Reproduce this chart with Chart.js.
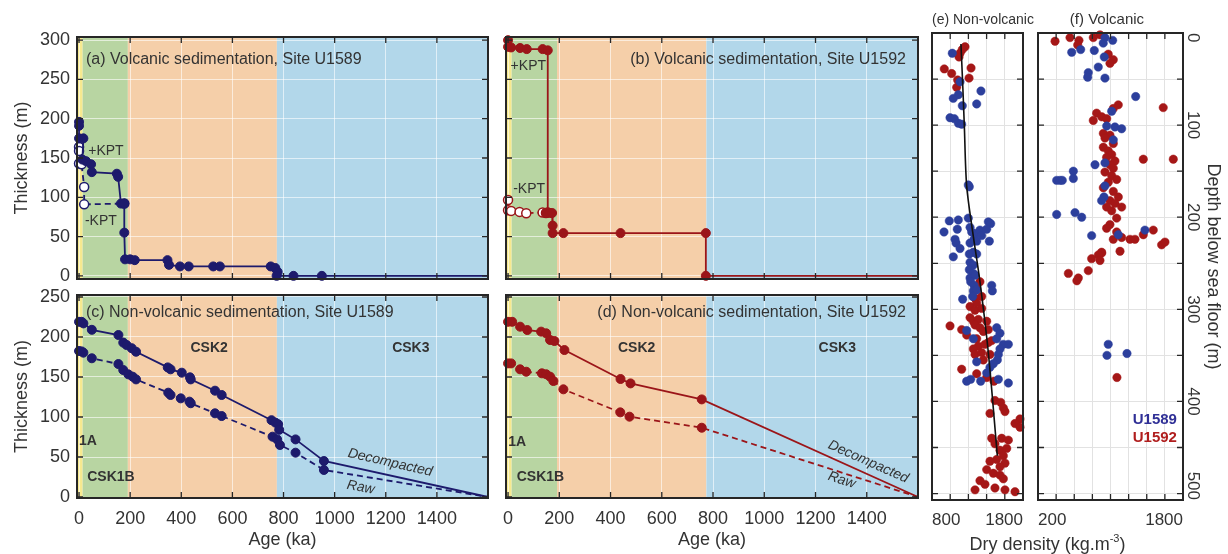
<!DOCTYPE html>
<html>
<head>
<meta charset="utf-8">
<title>Volcanic and non-volcanic sedimentation, U1589 / U1592</title>
<script src="https://cdn.jsdelivr.net/npm/chart.js@4.4.1/dist/chart.umd.min.js"></script>
<style>
  body { margin: 0; background: #fff; }
  #fig { position: relative; width: 1228px; height: 554px; overflow: hidden; }
  #fig canvas { position: absolute; }
</style>
</head>
<body>
<div id="fig">
  <canvas id="chartA" width="500" height="270" style="left:0;top:15px"></canvas>
  <canvas id="chartB" width="430" height="270" style="left:495px;top:15px"></canvas>
  <canvas id="chartC" width="500" height="271" style="left:0;top:283px"></canvas>
  <canvas id="chartD" width="430" height="271" style="left:495px;top:283px"></canvas>
  <canvas id="chartE" width="120" height="554" style="left:920px;top:0"></canvas>
  <canvas id="chartF" width="278" height="554" style="left:950px;top:0"></canvas>
</div>
<script>
const FONT = "'Liberation Sans', Arial, Helvetica, sans-serif";
Chart.defaults.font.family = FONT;
Chart.defaults.color = "#333";
Chart.defaults.animation = false;
Chart.defaults.plugins.legend.display = false;
Chart.defaults.plugins.tooltip.enabled = false;

// ---- ticks ----
const ageTicks = [0, 200, 400, 600, 800, 1000, 1200, 1400];
const volcThkTicks = [0, 50, 100, 150, 200, 250, 300];
const nonVolcThkTicks = [0, 50, 100, 150, 200, 250];
const depthTicks = [0, 50, 100, 150, 200, 250, 300, 350, 400, 450, 500];
const depthLabels = [0, 100, 200, 300, 400, 500];
const densTicksE = [800, 1000, 1200, 1400, 1600, 1800];
const densTicksF = [200, 400, 600, 800, 1000, 1200, 1400, 1600, 1800];

// stage boundaries (ka): 1A | CSK1B | CSK2 | CSK3
const stageEdges = [-8, 14, 191, 774, 1600];

// ---- (a) volcanic, U1589 : age (ka) / cumulative thickness (m) ----
const u1589VolcAge = [0, 0, 0, 17, 13, 27, 47, 50, 148, 153, 164, 177, 177, 180, 200, 218, 346, 352, 395, 429, 525, 551, 750, 768, 777, 773, 839, 950, 1600];
const u1589VolcThk = [196, 191, 175, 175, 148, 146, 142, 132, 130, 126, 92, 92, 55, 21, 21, 20, 20, 14, 12, 12, 12, 12, 12, 10, 5, 0, 0, 0, 0];
const u1589NoKptAge = [0, 0, 0, 10, 20, 20, 177];
const u1589NoKptThk = [164, 159, 143, 142, 113, 91, 92];

// ---- (b) volcanic, U1592 ----
const u1592VolcAge = [0, 0, 12, 47, 73, 135, 155, 155, 148, 162, 172, 174, 174, 216, 439, 772, 772, 1600];
const u1592VolcThk = [300, 291.5, 290.7, 290, 288.6, 288.6, 287, 81, 80, 80, 80, 64, 54.4, 54.4, 54.4, 54.4, 0, 0];
const u1592NoKptAge = [0, 0, 12, 45, 71, 135, 148];
const u1592NoKptThk = [96.6, 83.5, 82.7, 81.4, 79.7, 80.6, 80];

// ---- (c) non-volcanic, U1589 ----
const u1589DecAge = [0, 10, 17, 50, 154, 173, 186, 206, 223, 347, 358, 402, 434, 437, 532, 558, 753, 768, 779, 783, 847, 958, 1600];
const u1589DecThk = [219, 219, 217, 209, 202.5, 193, 190, 186, 181.6, 162, 159.6, 155.4, 149.6, 147, 132.9, 127.5, 96, 93, 91, 84, 72, 45, 0];
const u1589RawAge = [0, 10, 17, 50, 154, 173, 193, 210, 223, 349, 358, 398, 432, 437, 532, 558, 757, 775, 786, 847, 958, 1600];
const u1589RawThk = [182.5, 182, 180.4, 173.4, 166.2, 158.7, 153.3, 150.4, 147, 130.4, 127.5, 123.3, 119.2, 117.2, 104.6, 101.2, 75.4, 72, 65, 55.4, 33.8, 0];

// ---- (d) non-volcanic, U1592 ----
const u1592DecAge = [0, 16, 47, 75, 129, 149, 164, 181, 220, 439, 478, 756, 1600];
const u1592DecThk = [219, 219, 212.9, 208.7, 206.7, 204.6, 196.3, 195, 183.7, 147.5, 142, 122, 0];
const u1592RawAge = [0, 12, 47, 71, 132, 149, 164, 177, 216, 438, 474, 756, 1600];
const u1592RawThk = [167, 167, 159.6, 156.6, 154.6, 153.4, 150.4, 145, 134.6, 105.8, 100.4, 86.6, 0];

// ---- (e) non-volcanic dry density (kg/m3) vs depth (m) ----
const nonVolcU1589 = [
  [1023, 22], [1108, 53], [1338, 63], [1090, 67], [1034, 71], [1291, 77], [1133, 79], [998, 92], [1045, 93], [1090, 98], [1126, 99],
  [1210, 167], [1199, 165], [990, 204], [1089, 203], [1199, 201], [932, 216], [1078, 213], [1218, 211], [1236, 216], [1273, 218],
  [1327, 214], [1419, 205], [1445, 207], [1401, 213], [1053, 224], [1064, 228], [1262, 224], [1291, 226], [1346, 220], [1218, 228],
  [1108, 234], [1254, 238], [1210, 240], [1430, 226], [1034, 243], [1291, 240], [1218, 249], [1254, 252], [1210, 257], [1254, 261],
  [1218, 266], [1273, 263], [1225, 270], [1262, 274], [1254, 280], [1291, 279], [1137, 289], [1456, 274], [1463, 280],
  [1247, 286], [1181, 323], [1254, 332], [1511, 320], [1547, 326], [1511, 332], [1584, 338], [1639, 338], [1547, 343], [1529, 349],
  [1518, 355], [1474, 359], [1437, 363], [1291, 357], [1401, 369], [1225, 376], [1181, 378], [1335, 378], [1529, 376], [1639, 380],
];
const nonVolcU1592 = [
  [1163, 15], [1133, 18], [1108, 22], [1097, 26], [935, 39], [1016, 44], [1229, 38], [1207, 49], [1082, 51], [1071, 59],
  [1327, 270], [1291, 278], [1346, 286], [1273, 288], [1218, 297], [1273, 301], [1291, 293], [1346, 299], [1218, 309], [1254, 313],
  [1309, 311], [1273, 317], [1327, 320], [1364, 324], [1401, 313], [1419, 322], [998, 318], [1126, 322], [1181, 328], [1291, 332],
  [1309, 340], [1382, 338], [1419, 336], [1456, 334], [1254, 343], [1273, 349], [1346, 347], [1437, 349], [1364, 355], [1126, 365],
  [1291, 370], [1401, 374], [1481, 378],
  [1492, 399], [1555, 401], [1584, 407], [1602, 411], [1437, 413], [1767, 419], [1712, 424], [1767, 428], [1456, 440], [1492, 446],
  [1566, 440], [1639, 442], [1547, 453], [1621, 451], [1584, 459], [1602, 467], [1547, 471], [1511, 463], [1437, 465], [1401, 474],
  [1474, 478], [1547, 480], [1584, 484], [1327, 486], [1382, 490], [1492, 494], [1602, 496], [1273, 496], [1712, 498],
];
const trendDensity = [1118, 1135, 1155, 1181, 1247, 1327, 1419, 1518];
const trendDepth = [12, 50, 100, 166, 216, 270, 347, 459];

// ---- (f) volcanic dry density vs depth ----
const volcU1589 = [
  [939, 5], [1024, 8], [920, 11], [572, 21], [671, 18], [821, 19], [931, 26], [865, 37], [755, 43], [748, 48], [939, 49], [1278, 69],
  [1013, 85], [958, 101], [1049, 102], [1123, 104],
  [1031, 116], [939, 141], [829, 143], [590, 150], [590, 158], [406, 160], [443, 160], [468, 160], [939, 166], [928, 178], [902, 182],
  [406, 197], [608, 195], [682, 200], [1380, 214], [792, 220], [1086, 219],
  [975, 338], [961, 350], [1182, 348],
];
const volcU1592 = [
  [388, 9], [553, 5], [652, 8], [638, 13], [884, 2], [810, 5], [975, 23], [1031, 29], [994, 33], [1582, 81], [1086, 78], [1031, 82],
  [847, 87], [903, 91], [958, 93], [810, 95],
  [921, 109], [994, 111], [939, 114], [1031, 120], [921, 124], [976, 128], [1013, 132], [957, 135], [1049, 139], [994, 143],
  [1031, 147], [939, 151], [1013, 155], [1068, 159], [976, 162], [921, 168], [1031, 172], [1086, 178], [994, 182], [1049, 185],
  [957, 189], [1013, 193], [1123, 189], [1068, 201], [994, 208], [957, 212], [1068, 216], [1031, 224], [1105, 237], [902, 239],
  [1362, 137], [1693, 137],
  [1123, 222], [1215, 224], [1270, 224], [1362, 219], [1472, 214], [1564, 230], [1601, 227],
  [902, 238], [866, 241], [884, 247], [792, 245], [535, 261], [645, 266], [629, 269], [755, 258],
  [1071, 374],
];

// ---- styles ----
const stageColors = ["#f7e98f", "#b8d5a2", "#f5cfa9", "#b2d7ea"];
const NAVY = "#1d1a6c";
const CRIMSON = "#9b1519";
const DOT_BLUE = "#2c3f9c";
const DOT_RED = "#a51717";
const BAND_GRID = "rgba(255,255,255,0.6)";
const WHITE_GRID = "#e2e2e2";

function pts(xs, ys) {
  return xs.map((v, i) => ({ x: v, y: ys[i] }));
}
function pairs(list) {
  return list.map(([x, y]) => ({ x, y }));
}
function noPad(s) {
  s.paddingLeft = s.paddingRight = s.paddingTop = s.paddingBottom = 0;
}
function useTicks(values) {
  return (s) => {
    s.ticks = values.map((v) => ({ value: v }));
  };
}

// coloured stage bands, inward ticks and frame
function frameWith(bands) {
  return {
    id: "frame",
    beforeDraw(chart) {
      if (!bands) return;
      const { ctx, chartArea: a } = chart;
      const x = chart.scales.x;
      ctx.save();
      bands.forEach((c, i) => {
        const x0 = Math.max(a.left, x.getPixelForValue(stageEdges[i]));
        const x1 = Math.min(a.right, x.getPixelForValue(stageEdges[i + 1]));
        ctx.fillStyle = c;
        ctx.fillRect(x0, a.top, x1 - x0, a.height);
      });
      ctx.restore();
    },
    afterDatasetsDraw(chart) {
      const { ctx, chartArea: a } = chart;
      const { x, y } = chart.scales;
      ctx.save();
      ctx.strokeStyle = "#262626";
      ctx.lineWidth = 1.3;
      ctx.beginPath();
      x.ticks.forEach((t) => {
        const p = x.getPixelForValue(t.value);
        ctx.moveTo(p, a.bottom);
        ctx.lineTo(p, a.bottom - 6);
        ctx.moveTo(p, a.top);
        ctx.lineTo(p, a.top + 6);
      });
      y.ticks.forEach((t) => {
        const p = y.getPixelForValue(t.value);
        ctx.moveTo(a.left, p);
        ctx.lineTo(a.left + 6, p);
        ctx.moveTo(a.right, p);
        ctx.lineTo(a.right - 6, p);
      });
      ctx.stroke();
      ctx.lineWidth = 2;
      ctx.strokeRect(a.left, a.top, a.width, a.height);
      ctx.restore();
    },
  };
}

// free text placed in data units
function notesFor(items) {
  return {
    id: "notes",
    afterDraw(chart) {
      const { ctx } = chart;
      const { x, y } = chart.scales;
      items.forEach((n) => {
        const size = n.size || 16;
        ctx.save();
        ctx.translate(x.getPixelForValue(n.x), y.getPixelForValue(n.y));
        ctx.rotate(((n.rot || 0) * Math.PI) / 180);
        ctx.fillStyle = n.color || "#333";
        ctx.textBaseline = "middle";
        const font = [n.style, n.weight, size + "px", FONT].filter(Boolean).join(" ");
        ctx.font = font;
        if (n.sup) {
          const w1 = ctx.measureText(n.text).width;
          ctx.font = Math.round(size * 0.62) + "px " + FONT;
          const w2 = ctx.measureText(n.sup).width;
          ctx.font = font;
          const w3 = ctx.measureText(n.tail).width;
          let left = -(w1 + w2 + w3) / 2;
          ctx.textAlign = "left";
          ctx.fillText(n.text, left, 0);
          ctx.font = Math.round(size * 0.62) + "px " + FONT;
          ctx.fillText(n.sup, left + w1, -size * 0.33);
          ctx.font = font;
          ctx.fillText(n.tail, left + w1 + w2, 0);
        } else {
          ctx.textAlign = n.align || "left";
          ctx.fillText(n.text, 0, 0);
        }
        ctx.restore();
      });
    },
  };
}

const rotatedDepthLabels = {
  id: "depthLabels",
  afterDraw(chart) {
    const { ctx, chartArea: a } = chart;
    const y = chart.scales.y;
    ctx.save();
    ctx.font = "17px " + FONT;
    ctx.fillStyle = "#333";
    ctx.textAlign = "center";
    ctx.textBaseline = "middle";
    depthLabels.forEach((v) => {
      const half = ctx.measureText(String(v)).width / 2;
      const p = Math.min(Math.max(y.getPixelForValue(v), a.top + half), a.bottom - half);
      ctx.save();
      ctx.translate(a.right + 10, p);
      ctx.rotate(Math.PI / 2);
      ctx.fillText(String(v), 0, 0);
      ctx.restore();
    });
    ctx.restore();
  },
};

function trace(xs, ys, color, dashed, hollow) {
  return {
    data: pts(xs, ys),
    borderColor: color,
    borderWidth: 1.8,
    borderDash: dashed ? [6, 4] : [],
    pointRadius: (c) => (c.raw && c.raw.x >= 1600 ? 0 : 4.5),
    pointBackgroundColor: hollow ? "#fff" : color,
    pointBorderColor: color,
    pointBorderWidth: hollow ? 1.5 : 1,
    tension: 0,
    clip: false,
  };
}

function dots(list, color) {
  return {
    data: pairs(list),
    pointRadius: 4.2,
    pointBackgroundColor: color,
    pointBorderColor: color,
    pointBorderWidth: 0.5,
    clip: false,
  };
}

function ageAxis(height, labelled) {
  return {
    type: "linear",
    min: -8,
    max: 1600,
    afterBuildTicks: useTicks(ageTicks),
    afterFit: (s) => {
      s.height = height;
      noPad(s);
    },
    grid: { color: BAND_GRID, drawTicks: false },
    border: { display: false },
    ticks: {
      display: labelled,
      font: { size: 18 },
      padding: 10,
      maxRotation: 0,
      autoSkip: false,
      callback: (v) => String(v),
    },
    title: {
      display: labelled,
      text: "Age (ka)",
      font: { size: 18 },
      padding: { top: 0, bottom: 3 },
    },
  };
}

function thkAxis(min, max, ticks, width, labelled) {
  return {
    type: "linear",
    min,
    max,
    afterBuildTicks: useTicks(ticks),
    afterFit: (s) => {
      s.width = width;
      noPad(s);
    },
    grid: { color: BAND_GRID, drawTicks: false },
    border: { display: false },
    ticks: {
      display: labelled,
      font: { size: 18 },
      padding: 7,
      callback: (v) => String(v),
    },
    title: {
      display: labelled,
      text: "Thickness (m)",
      font: { size: 18 },
      padding: { top: 11, bottom: 0 },
    },
  };
}

function densAxis(min, max, ticks) {
  return {
    type: "linear",
    min,
    max,
    afterBuildTicks: useTicks(ticks),
    afterFit: (s) => {
      s.height = 54;
      noPad(s);
    },
    grid: { color: WHITE_GRID, drawTicks: false },
    border: { display: false },
    ticks: {
      font: { size: 17 },
      padding: 10,
      align: "inner",
      maxRotation: 0,
      autoSkip: false,
      callback: (v, i, arr) => (i === 0 || i === arr.length - 1 ? String(v) : ""),
    },
  };
}

function depthAxis(position, width, titled) {
  return {
    type: "linear",
    min: 0,
    max: 507,
    reverse: true,
    position,
    afterBuildTicks: useTicks(depthTicks),
    afterFit: (s) => {
      s.width = width;
      noPad(s);
    },
    grid: { color: WHITE_GRID, drawTicks: false },
    border: { display: false },
    ticks: { display: false },
    title: {
      display: titled,
      text: "Depth below sea floor (m)",
      font: { size: 18 },
      padding: { top: 4, bottom: 0 },
    },
  };
}

// (a)
new Chart(document.getElementById("chartA"), {
  type: "line",
  data: {
    datasets: [
      trace(u1589VolcAge, u1589VolcThk, NAVY, false, false),
      trace(u1589NoKptAge, u1589NoKptThk, NAVY, true, true),
    ],
  },
  options: {
    responsive: false,
    layout: { padding: { left: 0, top: 22, right: 12, bottom: 0 } },
    scales: { x: ageAxis(5, false), y: thkAxis(-4, 304, volcThkTicks, 77, true) },
  },
  plugins: [
    frameWith(stageColors),
    notesFor([
      { text: "(a) Volcanic sedimentation, Site U1589", x: 27, y: 275 },
      { text: "+KPT", x: 36, y: 159, size: 14 },
      { text: "-KPT", x: 23, y: 70, size: 14 },
    ]),
  ],
});

// (b)
new Chart(document.getElementById("chartB"), {
  type: "line",
  data: {
    datasets: [
      trace(u1592VolcAge, u1592VolcThk, CRIMSON, false, false),
      trace(u1592NoKptAge, u1592NoKptThk, CRIMSON, true, true),
    ],
  },
  options: {
    responsive: false,
    layout: { padding: { left: 0, top: 22, right: 7, bottom: 0 } },
    scales: { x: ageAxis(5, false), y: thkAxis(-4, 304, volcThkTicks, 11, false) },
  },
  plugins: [
    frameWith(stageColors),
    notesFor([
      { text: "(b) Volcanic sedimentation, Site U1592", x: 1553, y: 275, align: "right" },
      { text: "+KPT", x: 10, y: 267, size: 14 },
      { text: "-KPT", x: 20, y: 110, size: 14 },
    ]),
  ],
});

// (c)
new Chart(document.getElementById("chartC"), {
  type: "line",
  data: {
    datasets: [
      trace(u1589DecAge, u1589DecThk, NAVY, false, false),
      trace(u1589RawAge, u1589RawThk, NAVY, true, false),
    ],
  },
  options: {
    responsive: false,
    layout: { padding: { left: 0, top: 12, right: 12, bottom: 0 } },
    scales: { x: ageAxis(56, true), y: thkAxis(-1.25, 252.5, nonVolcThkTicks, 77, true) },
  },
  plugins: [
    frameWith(stageColors),
    notesFor([
      { text: "(c) Non-volcanic sedimentation, Site U1589", x: 27, y: 230 },
      { text: "CSK2", x: 509, y: 186, size: 14, weight: "bold", align: "center" },
      { text: "CSK3", x: 1298, y: 186, size: 14, weight: "bold", align: "center" },
      { text: "1A", x: 0, y: 70, size: 14, weight: "bold" },
      { text: "CSK1B", x: 32, y: 25, size: 14, weight: "bold" },
      { text: "Decompacted", x: 1217, y: 43, size: 14, style: "italic", align: "center", rot: 13 },
      { text: "Raw", x: 1102, y: 12, size: 14, style: "italic", align: "center", rot: 10 },
    ]),
  ],
});

// (d)
new Chart(document.getElementById("chartD"), {
  type: "line",
  data: {
    datasets: [
      trace(u1592DecAge, u1592DecThk, CRIMSON, false, false),
      trace(u1592RawAge, u1592RawThk, CRIMSON, true, false),
    ],
  },
  options: {
    responsive: false,
    layout: { padding: { left: 0, top: 12, right: 7, bottom: 0 } },
    scales: { x: ageAxis(56, true), y: thkAxis(-1.25, 252.5, nonVolcThkTicks, 11, false) },
  },
  plugins: [
    frameWith(stageColors),
    notesFor([
      { text: "(d) Non-volcanic sedimentation, Site U1592", x: 1553, y: 230, align: "right" },
      { text: "CSK2", x: 502, y: 186, size: 14, weight: "bold", align: "center" },
      { text: "CSK3", x: 1285, y: 186, size: 14, weight: "bold", align: "center" },
      { text: "1A", x: 1, y: 69, size: 14, weight: "bold" },
      { text: "CSK1B", x: 34, y: 25, size: 14, weight: "bold" },
      { text: "Decompacted", x: 1406, y: 44, size: 14, style: "italic", align: "center", rot: 24 },
      { text: "Raw", x: 1302, y: 21, size: 14, style: "italic", align: "center", rot: 18 },
    ]),
  ],
});

// (e)
new Chart(document.getElementById("chartE"), {
  type: "scatter",
  data: {
    datasets: [
      {
        data: pts(trendDensity, trendDepth),
        showLine: true,
        borderColor: "#111",
        borderWidth: 1.6,
        pointRadius: 0,
        tension: 0.3,
      },
      dots(nonVolcU1589, DOT_BLUE),
      dots(nonVolcU1592, DOT_RED),
    ],
  },
  options: {
    responsive: false,
    layout: { padding: { left: 0, top: 33, right: 17, bottom: 0 } },
    scales: { x: densAxis(800, 1800, densTicksE), y: depthAxis("left", 12, false) },
  },
  plugins: [
    frameWith(null),
    notesFor([{ text: "(e) Non-volcanic", x: 1360, y: -14, size: 14, align: "center" }]),
  ],
});

// (f)
new Chart(document.getElementById("chartF"), {
  type: "scatter",
  data: {
    datasets: [dots(volcU1589, DOT_BLUE), dots(volcU1592, DOT_RED)],
  },
  options: {
    responsive: false,
    layout: { padding: { left: 88, top: 33, right: 0, bottom: 0 } },
    scales: { x: densAxis(200, 1800, densTicksF), y: depthAxis("right", 45, true) },
  },
  plugins: [
    frameWith(null),
    rotatedDepthLabels,
    notesFor([
      { text: "(f) Volcanic", x: 961, y: -14, size: 15, align: "center" },
      { text: "U1589", x: 1733, y: 420, size: 15, weight: "bold", align: "right", color: "#2f2f96" },
      { text: "U1592", x: 1733, y: 439, size: 15, weight: "bold", align: "right", color: "#b01e1e" },
      { text: "Dry density (kg.m", sup: "-3", tail: ")", x: 305, y: 556, size: 18 },
    ]),
  ],
});
</script>
</body>
</html>
